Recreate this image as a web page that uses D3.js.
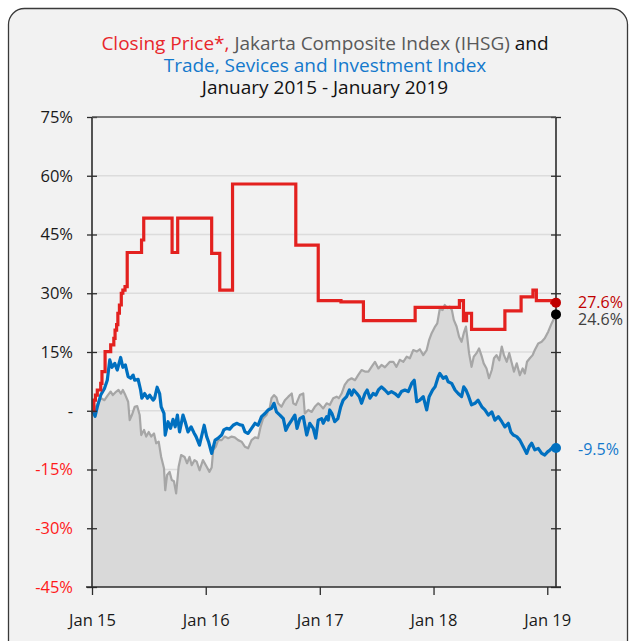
<!DOCTYPE html>
<html><head><meta charset="utf-8">
<script src="https://cdn.jsdelivr.net/npm/d3@7"></script>
<style>
html,body{margin:0;padding:0;background:#fff;}
text{font-family:"Segoe UI","Open Sans","Noto Sans",sans-serif;}
</style></head>
<body><svg id="chart" width="631" height="641"></svg>
<script>
// ---- data (% change since 2 Jan 2015) ----
const yTicks = [-45,-30,-15,0,15,30,45,60,75];
const xTicks = ["2015-01-01","2016-01-01","2017-01-01","2018-01-01","2019-01-01"];
const xTickLabels = ["Jan 15","Jan 16","Jan 17","Jan 18","Jan 19"];

const closingPrice = [["2015-01-02",0],["2015-01-07",2.7],["2015-01-12",4.0],["2015-01-18",5.3],["2015-01-29",7.0],["2015-02-02",10.0],["2015-02-12",15.1],["2015-03-02",16.8],["2015-03-12",18.5],["2015-03-16",20.6],["2015-03-21",22.0],["2015-03-25",24.9],["2015-03-30",27.0],["2015-04-05",30.0],["2015-04-10",30.8],["2015-04-17",31.7],["2015-04-24",40.4],["2015-06-09",43.6],["2015-06-16",49.2],["2015-09-15",40.4],["2015-10-03",49.2],["2016-01-20",40.2],["2016-02-15",30.8],["2016-03-27",57.9],["2016-10-16",42.3],["2016-12-27",28.1],["2017-03-10",27.8],["2017-05-21",23.0],["2017-11-03",26.4],["2018-03-25",28.1],["2018-04-07",23.0],["2018-04-17",24.9],["2018-05-03",20.8],["2018-08-18",25.5],["2018-10-09",29.1],["2018-11-16",30.8],["2018-11-27",28.1],["2019-01-15",27.6],["2019-01-29",27.6]];

const ihsg = [["2015-01-02",0],["2015-01-09",0.5],["2015-01-20",1.9],["2015-01-30",3.2],["2015-02-10",2.7],["2015-02-21",4.0],["2015-03-02",4.9],["2015-03-09",4.0],["2015-03-20",4.9],["2015-03-27",5.3],["2015-04-04",4.4],["2015-04-10",5.3],["2015-04-18",4.0],["2015-04-27",2.3],["2015-05-02",-2.4],["2015-05-09",-1.1],["2015-05-18",1.0],["2015-05-26",1.2],["2015-06-03",-1.1],["2015-06-08",-6.2],["2015-06-17",-4.9],["2015-06-24",-6.6],["2015-07-02",-5.4],["2015-07-10",-6.6],["2015-07-19",-5.8],["2015-07-26",-8.3],["2015-08-03",-7.9],["2015-08-11",-11.8],["2015-08-20",-14.7],["2015-08-24",-20.3],["2015-08-30",-16.4],["2015-09-07",-15.6],["2015-09-14",-17.7],["2015-09-21",-18.0],["2015-09-28",-21.1],["2015-10-06",-14.3],["2015-10-14",-11.3],["2015-10-25",-11.8],["2015-11-02",-13.4],["2015-11-10",-11.8],["2015-11-17",-13.9],["2015-11-26",-12.6],["2015-12-03",-13.0],["2015-12-12",-15.2],["2015-12-23",-12.6],["2016-01-04",-14.3],["2016-01-13",-15.6],["2016-01-20",-14.5],["2016-01-25",-10.0],["2016-02-02",-9.2],["2016-02-10",-7.5],["2016-02-21",-7.5],["2016-03-02",-6.6],["2016-03-13",-7.0],["2016-03-24",-6.6],["2016-04-03",-6.8],["2016-04-14",-7.5],["2016-04-25",-7.9],["2016-05-06",-9.2],["2016-05-16",-9.6],["2016-05-27",-7.5],["2016-06-07",-6.8],["2016-06-17",-7.0],["2016-06-25",-4.1],["2016-07-03",-2.0],["2016-07-14",-1.1],["2016-07-25",1.0],["2016-07-30",3.2],["2016-08-07",4.0],["2016-08-15",3.4],["2016-08-20",1.9],["2016-08-31",1.0],["2016-09-11",2.7],["2016-09-22",3.6],["2016-10-03",4.4],["2016-10-08",1.9],["2016-10-16",1.5],["2016-10-29",4.0],["2016-11-09",4.4],["2016-11-14",-0.7],["2016-11-25",0.2],["2016-12-06",-0.3],["2016-12-16",1.0],["2016-12-27",1.9],["2017-01-02",1.5],["2017-01-12",0.6],["2017-01-23",1.9],["2017-02-02",1.5],["2017-02-13",3.2],["2017-02-24",3.6],["2017-03-03",3.2],["2017-03-12",4.4],["2017-03-22",6.6],["2017-04-02",7.8],["2017-04-13",8.3],["2017-04-24",7.8],["2017-05-04",9.1],["2017-05-15",10.4],["2017-05-26",10.0],["2017-06-06",10.0],["2017-06-16",11.2],["2017-06-27",12.5],["2017-07-08",10.8],["2017-07-18",11.7],["2017-07-29",11.1],["2017-08-14",12.5],["2017-08-25",12.5],["2017-09-04",11.2],["2017-09-15",13.0],["2017-09-26",12.5],["2017-10-07",13.8],["2017-10-17",13.4],["2017-10-28",15.5],["2017-11-08",15.1],["2017-11-18",15.7],["2017-11-29",14.2],["2017-12-10",15.5],["2017-12-18",18.1],["2017-12-26",19.8],["2018-01-06",21.5],["2018-01-13",22.3],["2018-01-21",26.0],["2018-01-30",25.7],["2018-02-06",27.0],["2018-02-14",26.2],["2018-02-22",26.6],["2018-03-01",25.7],["2018-03-07",23.2],["2018-03-16",21.5],["2018-03-24",18.9],["2018-04-01",17.6],["2018-04-08",19.8],["2018-04-15",21.5],["2018-04-19",18.9],["2018-04-25",14.7],["2018-05-03",11.2],["2018-05-10",13.8],["2018-05-19",14.7],["2018-05-27",15.9],["2018-06-05",13.8],["2018-06-11",12.1],["2018-06-20",10.8],["2018-06-28",8.3],["2018-07-07",10.4],["2018-07-14",13.4],["2018-07-22",14.2],["2018-07-31",12.9],["2018-08-08",16.4],["2018-08-15",14.2],["2018-08-24",12.5],["2018-09-01",14.7],["2018-09-08",12.5],["2018-09-16",10.0],["2018-09-25",12.1],["2018-10-05",9.1],["2018-10-14",10.8],["2018-10-21",9.5],["2018-10-28",12.5],["2018-11-06",13.4],["2018-11-15",14.2],["2018-11-22",15.5],["2018-12-03",17.2],["2018-12-14",17.6],["2018-12-24",18.5],["2019-01-04",20.2],["2019-01-15",22.3],["2019-01-29",24.6]];

const tradeIndex = [["2015-01-02",0],["2015-01-07",-0.7],["2015-01-11",-1.4],["2015-01-18",1.0],["2015-01-29",4.0],["2015-02-10",5.7],["2015-02-19",7.8],["2015-02-27",13.0],["2015-03-06",11.1],["2015-03-15",12.1],["2015-03-23",10.4],["2015-04-03",13.6],["2015-04-10",11.1],["2015-04-18",11.7],["2015-04-27",8.7],["2015-05-05",8.3],["2015-05-13",9.1],["2015-05-18",7.8],["2015-05-29",8.0],["2015-06-06",5.3],["2015-06-10",3.2],["2015-06-19",4.4],["2015-06-28",3.2],["2015-07-05",4.0],["2015-07-16",2.7],["2015-07-21",3.2],["2015-07-29",6.0],["2015-08-06",4.4],["2015-08-11",1.0],["2015-08-20",-0.7],["2015-08-24",-6.2],["2015-09-02",-2.8],["2015-09-10",-4.5],["2015-09-18",-2.2],["2015-09-25",-4.1],["2015-10-02",-1.1],["2015-10-09",-5.4],["2015-10-20",-1.1],["2015-10-27",-2.8],["2015-11-05",-5.4],["2015-11-15",-4.1],["2015-11-24",-5.6],["2015-12-01",-6.6],["2015-12-12",-8.8],["2015-12-27",-3.7],["2016-01-04",-6.6],["2016-01-10",-7.9],["2016-01-20",-10.9],["2016-01-31",-7.5],["2016-02-10",-7.0],["2016-02-21",-6.2],["2016-02-28",-4.9],["2016-03-08",-4.5],["2016-03-18",-4.7],["2016-03-29",-3.7],["2016-04-09",-3.2],["2016-04-20",-3.6],["2016-04-28",-3.7],["2016-05-06",-5.4],["2016-05-16",-5.8],["2016-05-27",-4.5],["2016-06-07",-3.2],["2016-06-17",-3.7],["2016-06-28",-1.5],["2016-07-09",-0.7],["2016-07-19",0.2],["2016-07-30",0.6],["2016-08-07",1.9],["2016-08-15",-0.3],["2016-08-26",-1.1],["2016-09-06",-2.0],["2016-09-14",-5.0],["2016-09-22",-3.7],["2016-10-03",-2.4],["2016-10-13",-1.1],["2016-10-20",-4.5],["2016-10-29",-2.0],["2016-11-09",-1.5],["2016-11-20",-6.2],["2016-11-30",-3.2],["2016-12-11",-4.5],["2016-12-19",-7.0],["2016-12-27",-2.4],["2017-01-07",-2.0],["2017-01-12",-3.2],["2017-01-23",-1.5],["2017-01-28",-2.4],["2017-02-02",0.2],["2017-02-09",-0.7],["2017-02-18",-2.8],["2017-02-28",-2.0],["2017-03-09",1.0],["2017-03-17",2.7],["2017-03-28",3.6],["2017-04-06",5.3],["2017-04-13",4.0],["2017-04-20",5.3],["2017-04-30",4.4],["2017-05-08",3.6],["2017-05-15",1.9],["2017-05-26",4.4],["2017-06-02",5.3],["2017-06-11",3.2],["2017-06-21",4.4],["2017-06-30",4.0],["2017-07-08",5.3],["2017-07-18",6.1],["2017-07-29",5.3],["2017-08-09",4.4],["2017-08-19",4.9],["2017-08-30",4.4],["2017-09-10",3.6],["2017-09-20",4.9],["2017-10-01",5.3],["2017-10-12",4.9],["2017-10-23",7.0],["2017-10-31",7.8],["2017-11-08",2.3],["2017-11-18",2.7],["2017-11-29",3.6],["2017-12-10",0.2],["2017-12-18",3.6],["2017-12-29",5.3],["2018-01-06",6.1],["2018-01-16",8.7],["2018-01-21",9.5],["2018-02-01",8.3],["2018-02-10",8.7],["2018-02-17",7.4],["2018-02-28",7.0],["2018-03-11",5.3],["2018-03-21",4.4],["2018-04-01",3.6],["2018-04-08",6.1],["2018-04-15",5.3],["2018-04-22",4.0],["2018-05-03",1.5],["2018-05-14",1.9],["2018-05-24",2.7],["2018-06-05",1.0],["2018-06-15",0.2],["2018-06-26",-1.1],["2018-07-07",-0.3],["2018-07-17",-2.4],["2018-07-28",-1.5],["2018-08-08",-2.8],["2018-08-18",-4.1],["2018-08-29",-3.2],["2018-09-06",-5.4],["2018-09-14",-6.2],["2018-09-25",-6.6],["2018-10-05",-7.5],["2018-10-16",-9.2],["2018-10-27",-10.9],["2018-11-04",-9.2],["2018-11-12",-8.3],["2018-11-22",-10.0],["2018-12-03",-9.6],["2018-12-14",-10.9],["2018-12-24",-11.3],["2019-01-02",-10.5],["2019-01-10",-10.0],["2019-01-20",-9.2],["2019-01-29",-9.5]];

const endLabels = ["27.6%","24.6%","-9.5%"];

// ---- drawing ----
const parse = d3.timeParse("%Y-%m-%d");
const toPts = arr => arr.map(d => ({date: parse(d[0]), v: d[1]}));
const red = toPts(closingPrice), gray = toPts(ihsg), blue = toPts(tradeIndex);

const svg = d3.select("#chart");
const L = 92, R = 556, T = 117, B = 587;
const x = d3.scaleTime().domain([parse("2015-01-01"), parse("2019-01-29")]).range([L, R]);
const y = d3.scaleLinear().domain([-45, 75]).range([B, T]);

// frame
svg.append("rect").attr("x", 8.5).attr("y", 8.5).attr("width", 619).attr("height", 680)
  .attr("rx", 16).attr("fill", "#f2f2f2").attr("stroke", "#3a3a3a").attr("stroke-width", 1.3);

// title
const title = svg.append("text").attr("x", 325).attr("y", 50).attr("text-anchor", "middle").attr("font-size", 19);
title.append("tspan").attr("fill", "#e8262b").text("Closing Price*,");
title.append("tspan").attr("fill", "#595959").text(" Jakarta Composite Index (IHSG)");
title.append("tspan").attr("fill", "#111").text(" and");
svg.append("text").attr("x", 325).attr("y", 72).attr("text-anchor", "middle").attr("font-size", 19)
  .attr("fill", "#1479cc").text("Trade, Sevices and Investment Index");
svg.append("text").attr("x", 325).attr("y", 94).attr("text-anchor", "middle").attr("font-size", 19)
  .attr("fill", "#111").text("January 2015 - January 2019");

// gridlines
svg.append("g").selectAll("line").data(yTicks.filter(t => t > -45 && t < 75)).join("line")
  .attr("x1", L).attr("x2", R).attr("y1", d => y(d)).attr("y2", d => y(d))
  .attr("stroke", "#dcdcdc").attr("stroke-width", 1.5);

// IHSG area + line
svg.append("path").datum(gray)
  .attr("d", d3.area().x(d => x(d.date)).y0(B).y1(d => y(d.v)))
  .attr("fill", "#d9d9d9");
svg.append("path").datum(gray)
  .attr("d", d3.line().x(d => x(d.date)).y(d => y(d.v)))
  .attr("fill", "none").attr("stroke", "#a6a6a6").attr("stroke-width", 2.2).attr("stroke-linejoin", "round");

// blue line
svg.append("path").datum(blue)
  .attr("d", d3.line().x(d => x(d.date)).y(d => y(d.v)))
  .attr("fill", "none").attr("stroke", "#0070c0").attr("stroke-width", 3.2).attr("stroke-linejoin", "round");

// red step line
svg.append("path").datum(red)
  .attr("d", d3.line().curve(d3.curveStepAfter).x(d => x(d.date)).y(d => y(d.v)))
  .attr("fill", "none").attr("stroke", "#e3211f").attr("stroke-width", 3.2);

// axes
const axisCol = "#2b2b2b";
const yAxis = svg.append("g").attr("transform", `translate(${L},0)`)
  .call(d3.axisLeft(y).tickValues(yTicks).tickSize(5).tickPadding(14)
    .tickFormat(d => d === 0 ? "-" : d + "%"));
yAxis.select(".domain").remove();
yAxis.selectAll(".tick line").attr("x1", 5).attr("stroke", axisCol).attr("stroke-width", 1.3);
yAxis.selectAll(".tick text").attr("font-size", 16.5).attr("font-family", null)
  .attr("fill", d => d < 0 ? "#ff1a1a" : "#1a1a1a");

const yAxisR = svg.append("g").attr("transform", `translate(${R},0)`)
  .call(d3.axisRight(y).tickValues(yTicks).tickSize(5).tickFormat(""));
yAxisR.select(".domain").remove();
yAxisR.selectAll(".tick line").attr("x1", -5).attr("stroke", axisCol).attr("stroke-width", 1.3);

const xAxis = svg.append("g").attr("transform", `translate(0,${B})`)
  .call(d3.axisBottom(x).tickValues(xTicks.map(parse)).tickSize(8).tickPadding(19)
    .tickFormat((d, i) => xTickLabels[i]));
xAxis.select(".domain").remove();
xAxis.selectAll(".tick line").attr("stroke", axisCol).attr("stroke-width", 1.3);
xAxis.selectAll(".tick text").attr("font-size", 16.5).attr("font-family", null).attr("fill", "#1a1a1a");

// frame lines of plot
svg.append("line").attr("x1", L).attr("x2", L).attr("y1", T).attr("y2", B).attr("stroke", axisCol).attr("stroke-width", 1.6);
svg.append("line").attr("x1", R).attr("x2", R).attr("y1", T).attr("y2", B).attr("stroke", axisCol).attr("stroke-width", 1.6);
svg.append("line").attr("x1", L).attr("x2", R).attr("y1", T).attr("y2", T).attr("stroke", "#555").attr("stroke-width", 1.3);
svg.append("line").attr("x1", L - 6).attr("x2", R + 5).attr("y1", B).attr("y2", B).attr("stroke", axisCol).attr("stroke-width", 1.6);

// end points
const ends = [
  {p: red[red.length - 1], c: "#c00000", tc: "#c00000", lbl: endLabels[0], dy: 5},
  {p: gray[gray.length - 1], c: "#000000", tc: "#404040", lbl: endLabels[1], dy: 11},
  {p: blue[blue.length - 1], c: "#0070c0", tc: "#1479cc", lbl: endLabels[2], dy: 7}
];
svg.append("g").selectAll("circle").data(ends).join("circle")
  .attr("cx", d => x(d.p.date)).attr("cy", d => y(d.p.v)).attr("r", 5).attr("fill", d => d.c);
svg.append("g").selectAll("text").data(ends).join("text")
  .attr("x", 578).attr("y", d => y(d.p.v) + d.dy).attr("font-size", 16)
  .attr("fill", d => d.tc).text(d => d.lbl);
</script></body></html>
